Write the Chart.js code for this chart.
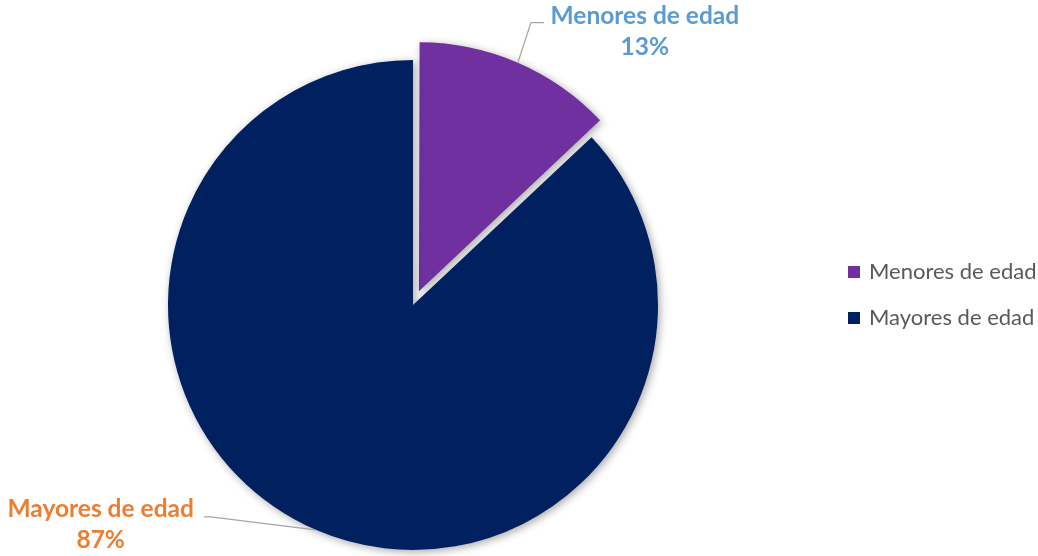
<!DOCTYPE html>
<html>
<head>
<meta charset="utf-8">
<script src="https://cdn.jsdelivr.net/npm/chart.js@4"></script>
<style>
  html, body { margin: 0; padding: 0; background: #fff; }
  #wrap { width: 1038px; height: 556px; }
</style>
</head>
<body>
<div id="wrap"><canvas id="pieChart" width="1038" height="556"></canvas></div>
<script>
// datos del grafico
const categorias = ["Menores de edad", "Mayores de edad"];
const valores = [13, 87];
const colores = ["#7030a0", "#002060"];
const coloresEtiqueta = ["#5b9bd5", "#ed7d31"];

// etiquetas con linea guia (posicion relativa al punto medio del arco)
const etiquetasPlugin = {
  id: "etiquetas",
  beforeDatasetsDraw(chart) {
    const ctx = chart.ctx;
    ctx.save();
    ctx.shadowColor = "rgba(0,0,0,0.35)";
    ctx.shadowBlur = 9;
    ctx.shadowOffsetX = 2;
    ctx.shadowOffsetY = 2;
  },
  afterDatasetsDraw(chart) {
    const ctx = chart.ctx;
    ctx.restore();
    const meta = chart.getDatasetMeta(0);
    const total = valores.reduce((a, b) => a + b, 0);
    // desplazamientos de la linea guia: [codo, final, texto]
    const guias = [
      { codo: [13, -40], fin: [26, -40], texto: [127, -47] },
      { codo: [-105, -13], fin: [-112, -13], texto: [-215, -21] }
    ];
    meta.data.forEach((arc, i) => {
      const p = arc.getProps(["x", "y", "startAngle", "endAngle", "outerRadius", "circumference"], true);
      const mid = (p.startAngle + p.endAngle) / 2;
      const off = (arc.options.offset || 0) / 4;
      const fix = 1 - Math.sin(Math.min(Math.PI, p.circumference || 0));
      const d = off * (1 + fix);
      const ax = p.x + Math.cos(mid) * (p.outerRadius + d);
      const ay = p.y + Math.sin(mid) * (p.outerRadius + d);
      const g = guias[i];
      ctx.save();
      ctx.strokeStyle = "#a6a6a6";
      ctx.lineWidth = 1.3;
      ctx.beginPath();
      ctx.moveTo(ax, ay);
      ctx.lineTo(ax + g.codo[0], ay + g.codo[1]);
      ctx.lineTo(ax + g.fin[0], ay + g.fin[1]);
      ctx.stroke();
      ctx.fillStyle = coloresEtiqueta[i];
      ctx.font = "bold 24.5px Lato, 'Open Sans', sans-serif";
      ctx.textAlign = "center";
      ctx.textBaseline = "middle";
      const tx = ax + g.texto[0], ty = ay + g.texto[1];
      ctx.fillText(categorias[i], tx, ty);
      ctx.fillText(Math.round(valores[i] / total * 100) + "%", tx, ty + 31);
      ctx.restore();
    });

    // leyenda
    ctx.save();
    ctx.font = "22px Lato, 'Open Sans', sans-serif";
    ctx.textBaseline = "middle";
    ctx.textAlign = "left";
    categorias.forEach((c, i) => {
      const y = 272 + i * 46;
      ctx.fillStyle = colores[i];
      ctx.fillRect(848, y - 6, 12, 12);
      ctx.fillStyle = "#595959";
      ctx.fillText(c, 869, y);
    });
    ctx.restore();
  }
};

new Chart(document.getElementById("pieChart"), {
  type: "pie",
  data: {
    labels: categorias,
    datasets: [{
      data: valores,
      backgroundColor: colores,
      borderWidth: 0,
      offset: [60, 0],
      radius: 245
    }]
  },
  options: {
    responsive: false,
    animation: false,
    layout: { padding: { left: 0, right: 212, top: 54, bottom: 0 } },
    plugins: {
      legend: { display: false },
      tooltip: { enabled: false }
    }
  },
  plugins: [etiquetasPlugin]
});
</script>
</body>
</html>
